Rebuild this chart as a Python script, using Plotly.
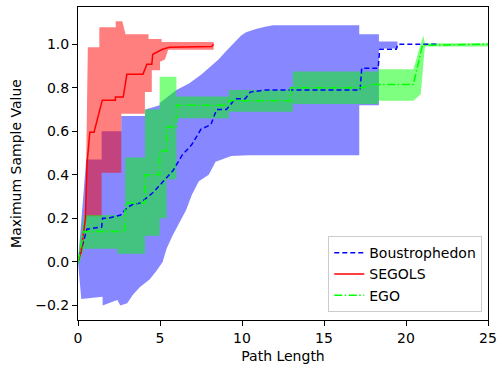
import plotly.graph_objects as go

# ---------------- data ----------------
# Boustrophedon
bous_x = [0, 0.5, 0.54, 1.44, 1.5, 1.8, 2.6, 3.0, 3.4, 3.8, 4.6, 5.2, 5.8, 6.35, 6.95, 7.5, 8.1, 8.45, 9.05, 9.6, 10.2, 10.5, 11.4, 17.2, 17.3, 18.3, 18.4, 19.4, 19.5, 21.9]
bous_y = [0, 0.14, 0.15, 0.16, 0.2, 0.2, 0.215, 0.25, 0.266, 0.27, 0.32, 0.37, 0.42, 0.49, 0.54, 0.61, 0.63, 0.70, 0.70, 0.75, 0.75, 0.78, 0.79, 0.79, 0.89, 0.89, 0.977, 0.977, 1.0, 1.0]
bous_up_x = [0, 0.5, 1.44, 1.44, 2.64, 2.64, 4.08, 4.1, 4.98, 4.98, 6.0, 6.77, 7.5, 8.15, 8.57, 9.05, 9.6, 9.95, 10.25, 10.85, 11.4, 11.9, 17.15, 17.15, 18.35, 18.35, 19.48, 19.48, 25]
bous_up_y = [0, 0.47, 0.47, 0.6, 0.6, 0.67, 0.67, 0.70, 0.72, 0.73, 0.79, 0.82, 0.86, 0.90, 0.93, 0.97, 1.01, 1.04, 1.055, 1.07, 1.08, 1.087, 1.087, 1.046, 1.046, 1.013, 1.013, 1.0, 1.0]
bous_lo_x = [0, 0.2, 1.5, 1.5, 1.8, 2.4, 2.58, 3.0, 3.36, 3.78, 4.38, 4.8, 5.16, 5.4, 5.76, 6.18, 6.6, 6.95, 7.37, 7.97, 8.39, 9.35, 10.37, 17.15, 17.15, 18.35, 18.35, 19.48, 19.48, 25]
bous_lo_y = [0, -0.17, -0.16, -0.2, -0.19, -0.175, -0.2, -0.19, -0.15, -0.115, -0.08, -0.04, 0.0, 0.06, 0.12, 0.18, 0.24, 0.31, 0.37, 0.40, 0.46, 0.486, 0.49, 0.49, 0.72, 0.72, 0.98, 0.98, 1.0, 1.0]

# SEGOLS
seg_x = [0, 0.2, 0.45, 0.55, 0.72, 0.98, 1.48, 2.28, 2.28, 2.76, 2.98, 3.96, 4.2, 4.5, 4.56, 5.16, 5.58, 8.15, 8.27]
seg_y = [0, 0.05, 0.2, 0.45, 0.596, 0.596, 0.743, 0.743, 0.757, 0.757, 0.862, 0.862, 0.908, 0.908, 0.954, 0.977, 0.986, 0.99, 1.0]
seg_up_x = [0, 0.45, 0.6, 1.3, 1.3, 2.3, 2.3, 2.7, 2.9, 4.3, 4.3, 5.1, 5.1, 8.27]
seg_up_y = [0, 0.2, 0.986, 0.986, 1.078, 1.078, 1.105, 1.105, 1.046, 1.046, 1.024, 1.024, 1.01, 1.01]
seg_lo_x = [0, 0.55, 1.44, 1.44, 2.64, 2.64, 4.08, 4.08, 4.5, 4.5, 5.0, 5.0, 5.3, 5.5, 8.27]
seg_lo_y = [0, 0.21, 0.21, 0.41, 0.41, 0.68, 0.68, 0.78, 0.78, 0.88, 0.88, 0.92, 0.93, 0.975, 0.975]

# EGO
ego_x = [0, 0.36, 2.86, 2.86, 4.08, 4.08, 4.98, 4.98, 5.4, 5.4, 6.0, 6.0, 9.2, 9.2, 12.95, 12.95, 17.3, 17.9, 20.45, 21.0, 25]
ego_y = [0, 0.14, 0.14, 0.27, 0.27, 0.40, 0.40, 0.51, 0.51, 0.62, 0.62, 0.72, 0.72, 0.74, 0.74, 0.80, 0.80, 0.815, 0.815, 0.995, 1.0]
ego_up_x = [0, 0.36, 2.88, 2.88, 4.08, 4.08, 4.98, 4.98, 6.0, 6.0, 9.2, 9.2, 13.1, 13.1, 18.3, 18.3, 20.45, 21.05, 21.15, 25]
ego_up_y = [0.02, 0.215, 0.215, 0.48, 0.48, 0.70, 0.70, 0.85, 0.85, 0.76, 0.76, 0.79, 0.79, 0.875, 0.875, 0.885, 0.885, 1.04, 1.005, 1.005]
ego_lo_x = [0, 0.36, 2.4, 2.4, 2.88, 4.08, 4.08, 4.98, 4.98, 5.4, 5.4, 6.0, 6.0, 9.2, 9.2, 13.1, 13.1, 18.3, 18.3, 20.45, 20.9, 21.15, 25]
ego_lo_y = [-0.02, 0.06, 0.06, 0.037, 0.037, 0.037, 0.12, 0.12, 0.2, 0.2, 0.38, 0.38, 0.66, 0.66, 0.69, 0.69, 0.725, 0.725, 0.74, 0.74, 0.77, 0.99, 0.99]

x_ticks = [0, 5, 10, 15, 20, 25]
y_ticks = [-0.2, 0.0, 0.2, 0.4, 0.6, 0.8, 1.0]

FONT = "DejaVu Sans"

fig = go.Figure()

def band(ux, uy, lx, ly, color):
    fig.add_trace(go.Scatter(
        x=list(ux) + list(lx)[::-1], y=list(uy) + list(ly)[::-1],
        fill="toself", fillcolor=color, mode="lines",
        line=dict(width=0, color=color), hoverinfo="skip", showlegend=False))

band(bous_up_x, bous_up_y, bous_lo_x, bous_lo_y, "rgba(0,0,255,0.47)")
band(seg_up_x, seg_up_y, seg_lo_x, seg_lo_y, "rgba(255,0,0,0.5)")
band(ego_up_x, ego_up_y, ego_lo_x, ego_lo_y, "rgba(0,255,0,0.5)")

fig.add_trace(go.Scatter(x=bous_x, y=bous_y, mode="lines", name="Boustrophedon",
                         line=dict(color="blue", width=1.5, dash="5px,3px")))
fig.add_trace(go.Scatter(x=seg_x, y=seg_y, mode="lines", name="SEGOLS",
                         line=dict(color="red", width=1.5)))
fig.add_trace(go.Scatter(x=ego_x, y=ego_y, mode="lines", name="EGO",
                         line=dict(color="lime", width=1.5, dash="8px,2.5px,1.5px,2.5px")))

axis_common = dict(showgrid=False, zeroline=False, showline=True, linecolor="black",
                   linewidth=1, mirror=True, ticks="outside", ticklen=5, tickwidth=1,
                   tickcolor="black", tickfont=dict(family=FONT, size=14, color="black"))

fig.update_layout(
    width=503, height=369,
    margin=dict(l=78, r=9, t=6, b=49),
    paper_bgcolor="white", plot_bgcolor="white",
    font=dict(family=FONT, size=14, color="black"),
    xaxis=dict(range=[0, 25], tickvals=x_ticks,
               title=dict(text="Path Length", standoff=6, font=dict(family=FONT, size=14)),
               **axis_common),
    yaxis=dict(range=[-0.267, 1.171], tickvals=y_ticks, tickformat=".1f",
               title=dict(text="Maximum Sample Value", standoff=10, font=dict(family=FONT, size=14)),
               **axis_common),
    legend=dict(x=0.986, y=0.025, xanchor="right", yanchor="bottom",
                bgcolor="rgba(255,255,255,0.8)", bordercolor="#cccccc", borderwidth=1,
                font=dict(family=FONT, size=14)),
    showlegend=True,
)

fig.write_html("out.html")
